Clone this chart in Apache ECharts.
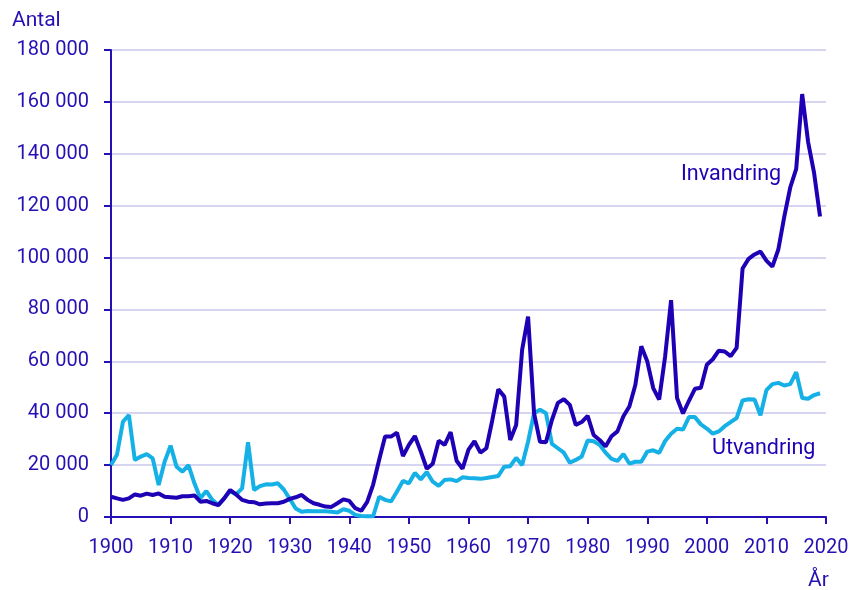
<!DOCTYPE html>
<html style="height: 100%">
<head>
<meta charset="utf-8">
</head>
<body style="height: 100%; margin: 0; background: #fff">
<div id="container" style="width: 852px; height: 590px"></div>
<script src="https://cdn.jsdelivr.net/npm/echarts@6/dist/echarts.min.js"></script>
<script>
// år 1900-2019, värden i tusental
var startYear = 1900;
var invandring = [
  7.8, 7.2, 6.6, 7.2, 8.7, 8.2, 9.0, 8.5, 9.1, 7.8,
  7.6, 7.4, 8.0, 8.0, 8.3, 5.9, 6.2, 5.3, 4.6, 7.2,
  10.4, 8.7, 6.6, 5.9, 5.7, 4.9, 5.2, 5.3, 5.3, 5.9,
  7.0, 7.6, 8.5, 6.6, 5.3, 4.7, 4.0, 3.9, 5.3, 6.8,
  6.2, 3.4, 2.4, 5.8, 12.5, 22.0, 31.0, 31.0, 32.5, 23.5,
  27.8, 31.2, 25.2, 18.6, 20.5, 29.4, 27.8, 32.7, 21.7, 18.6,
  26.0, 29.2, 24.8, 26.5, 37.4, 49.2, 46.4, 29.7, 35.5, 64.4,
  77.2, 40.0, 29.0, 28.8, 37.4, 44.0, 45.4, 43.2, 35.5, 36.6,
  39.0, 31.6, 29.7, 27.2, 31.1, 33.0, 38.8, 42.6, 50.9, 65.8,
  60.0, 49.7, 45.3, 61.9, 83.6, 45.9, 39.9, 44.8, 49.4, 49.8,
  58.7, 60.8, 64.1, 63.8, 62.0, 65.2, 95.8, 99.5, 101.2, 102.3,
  98.8, 96.5, 103.1, 115.8, 127.0, 134.2, 163.0, 144.5, 132.6, 115.8
];
var utvandring = [
  20.0, 24.0, 36.7, 39.3, 22.0, 23.3, 24.2, 22.6, 12.3, 21.3,
  27.5, 19.4, 17.5, 20.0, 13.0, 7.2, 10.0, 6.6, 4.6, 7.2,
  10.0, 8.7, 11.0, 28.8, 10.4, 11.9, 12.6, 12.5, 13.0, 10.6,
  7.0, 3.3, 2.0, 2.3, 2.2, 2.2, 2.2, 2.0, 1.7, 3.0,
  2.4, 0.8, 0.4, 0.3, 0.3, 7.8, 6.6, 6.0, 9.8, 13.9,
  13.0, 17.0, 14.5, 17.3, 13.6, 12.0, 14.3, 14.5, 13.8, 15.3,
  15.0, 14.9, 14.7, 15.0, 15.4, 15.8, 19.4, 19.6, 22.8, 20.0,
  29.0, 40.0, 41.4, 40.0, 28.2, 26.5, 24.8, 20.9, 22.0, 23.3,
  29.5, 29.2, 27.8, 24.8, 22.4, 21.6, 24.3, 20.6, 21.3, 21.3,
  25.2, 25.7, 24.7, 29.3, 32.1, 34.0, 33.7, 38.5, 38.5, 35.7,
  34.1, 32.1, 33.0, 35.0, 36.6, 38.1, 44.9, 45.4, 45.3, 39.2,
  48.9, 51.2, 51.7, 50.7, 51.2, 55.8, 45.9, 45.6, 47.0, 47.7
];

var textColor = '#2410b4';
var darkColor = '#1f00b5';
var lightColor = '#14b0e6';
var gridColor = '#d6d6f2';

function toPairs(arr) {
  return arr.map(function (v, i) { return [startYear + i, v * 1000]; });
}

var myChart = echarts.init(document.getElementById('container'));
var option = {
  backgroundColor: '#fff',
  animation: false,
  textStyle: { fontFamily: 'Roboto' },
  grid: { left: 111, right: 26, top: 50, bottom: 73 },
  xAxis: {
    type: 'value',
    min: 1900,
    max: 2020,
    interval: 10,
    axisLine: { lineStyle: { color: textColor, width: 2 } },
    axisTick: { show: true, length: 7, lineStyle: { color: textColor, width: 2 } },
    axisLabel: {
      color: textColor, fontSize: 20, margin: 21,
      formatter: function (v) { return String(v); }
    },
    splitLine: { show: false }
  },
  yAxis: {
    type: 'value',
    min: 0,
    max: 180000,
    interval: 20000,
    axisLine: { show: true, lineStyle: { color: textColor, width: 2 } },
    axisTick: { show: true, length: 7, lineStyle: { color: textColor, width: 2 } },
    axisLabel: {
      color: textColor, fontSize: 20, margin: 22,
      formatter: function (v) { return String(v).replace(/\B(?=(\d{3})+(?!\d))/g, ' '); }
    },
    splitLine: { lineStyle: { color: gridColor, width: 2 } }
  },
  series: [{
    name: 'Utvandring',
    type: 'line',
    data: toPairs(utvandring),
    showSymbol: false,
    lineStyle: { color: lightColor, width: 4 },
    itemStyle: { color: lightColor }
  }, {
    name: 'Invandring',
    type: 'line',
    data: toPairs(invandring),
    showSymbol: false,
    lineStyle: { color: darkColor, width: 4 },
    itemStyle: { color: darkColor }
  }],
  graphic: [
    { type: 'text', left: 12, top: 10, style: { text: 'Antal', fill: textColor, font: '21px Roboto' } },
    { type: 'text', left: 808, top: 570, style: { text: 'År', fill: textColor, font: '21px Roboto' } },
    { type: 'text', left: 681, top: 164, style: { text: 'Invandring', fill: darkColor, font: '21.5px Roboto' } },
    { type: 'text', left: 712, top: 438, style: { text: 'Utvandring', fill: darkColor, font: '21.5px Roboto' } }
  ]
};
myChart.setOption(option);
</script>
</body>
</html>
